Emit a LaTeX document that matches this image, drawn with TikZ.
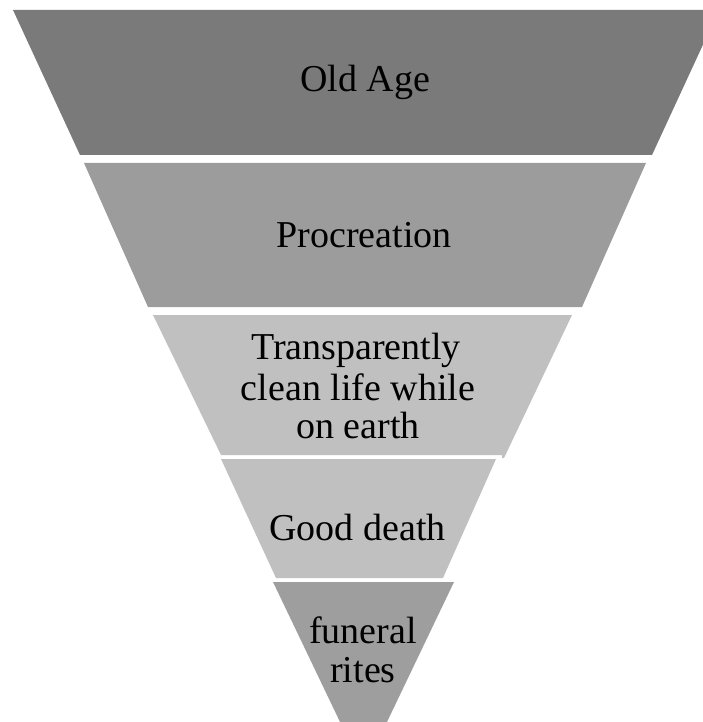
\documentclass[tikz,border=0pt]{standalone}
\usepackage{fontspec}
\setmainfont{Liberation Serif}
\begin{document}
\begin{tikzpicture}[x=1pt,y=-1pt,
  lbl/.style={anchor=base,inner sep=0pt,font=\fontsize{38}{41}\selectfont,text=black},
  band/.style={draw=none}]
\useasboundingbox (0,0) rectangle (703,722);
\definecolor{gA}{gray}{0.478}
\definecolor{gB}{gray}{0.612}
\definecolor{gC}{gray}{0.753}
\definecolor{gD}{gray}{0.753}
\definecolor{gE}{gray}{0.62}
\begin{scope}
\clip (0,0) rectangle (703,722);
\fill[band,gA] (13,10) -- (719,10) -- (652,155) -- (80,155) -- cycle;
\fill[band,gB] (84,163) -- (646,163) -- (582,307) -- (148,307) -- cycle;
\fill[band,gC] (153,315) -- (572,315) -- (504,458) -- (502,458) -- (502,455) -- (221,455) -- cycle;
\fill[band,gD] (221,459) -- (496,459) -- (443,578) -- (276,578) -- cycle;
\fill[band,gE] (273,582) -- (454,582) -- (363.5,771) -- cycle;
\end{scope}
\node[lbl] (oldage) at (365,92) {Old Age};
\node[lbl] (procreation) at (364,247) {Procreation};
\node[lbl] (t1) at (356,359) {Transparently};
\node[lbl] (t2) at (358,400) {clean life while};
\node[lbl] (t3) at (358,438) {on earth};
\node[lbl] (gooddeath) at (357.5,540) {Good death};
\node[lbl] (funeral) at (363,643) {funeral};
\node[lbl] (rites) at (363,682) {rites};
\end{tikzpicture}
\end{document}
